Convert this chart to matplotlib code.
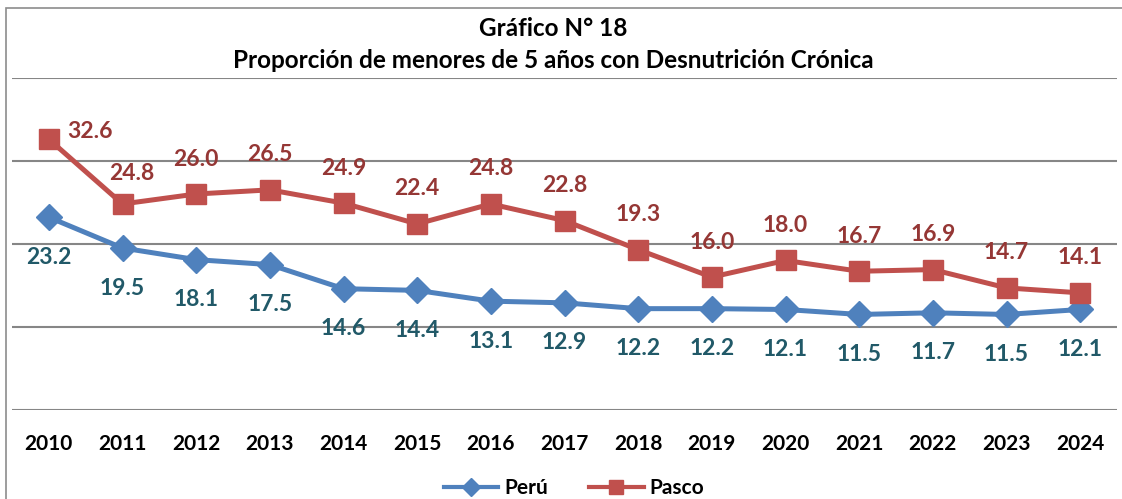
import matplotlib
matplotlib.use("Agg")
import matplotlib.pyplot as plt
from matplotlib.patches import Rectangle

years = ["2010", "2011", "2012", "2013", "2014", "2015", "2016", "2017",
         "2018", "2019", "2020", "2021", "2022", "2023", "2024"]
peru = [23.2, 19.5, 18.1, 17.5, 14.6, 14.4, 13.1, 12.9, 12.2, 12.2, 12.1, 11.5, 11.7, 11.5, 12.1]
pasco = [32.6, 24.8, 26.0, 26.5, 24.9, 22.4, 24.8, 22.8, 19.3, 16.0, 18.0, 16.7, 16.9, 14.7, 14.1]
title1 = "Gráfico N° 18"
title2 = "Proporción de menores de 5 años con Desnutrición Crónica"

FONT = "Lato"
C_PERU = "#4F81BD"
C_PASCO = "#C0504D"
C_PERU_LBL = "#215968"
C_PASCO_LBL = "#953735"
GRID = "#868686"

W, H = 1122, 499
fig = plt.figure(figsize=(W / 100, H / 100), dpi=100)
fig.patch.set_facecolor("white")

# chart frame
fig.add_artist(Rectangle((6 / W, -0.1), 1.2, (H - 8) / H + 0.1, transform=fig.transFigure,
                         fill=False, edgecolor="#8c8c8c", linewidth=1.2, clip_on=False))

ax = fig.add_axes([12 / W, (H - 410) / H, 1105 / W, (410 - 77.7) / H])
x = list(range(len(years)))
ax.set_xlim(-0.5, len(years) - 0.5)
ax.set_ylim(0, 40)
ax.set_yticks([0, 10, 20, 30, 40])
ax.yaxis.grid(True, color=GRID, linewidth=1.5)
ax.set_axisbelow(True)
for s in ax.spines.values():
    s.set_visible(False)
ax.tick_params(axis="y", left=False, labelleft=False)
ax.tick_params(axis="x", bottom=False, pad=14)
ax.set_xticks(x)
ax.set_xticklabels(years, fontfamily=FONT, fontweight="bold", fontsize=15, color="black")

ax.plot(x, peru, color=C_PERU, linewidth=3.6, marker="D", markersize=13,
        markerfacecolor=C_PERU, markeredgecolor=C_PERU, label="Perú", zorder=3)
ax.plot(x, pasco, color=C_PASCO, linewidth=3.6, marker="s", markersize=14.5,
        markerfacecolor=C_PASCO, markeredgecolor=C_PASCO, label="Pasco", zorder=3)

for i, v in enumerate(peru):
    ax.annotate(f"{v:.1f}", (i, v), xytext=(0, -40), textcoords="offset pixels",
                ha="center", va="center", fontfamily=FONT, fontweight="bold",
                fontsize=16.5, color=C_PERU_LBL, zorder=4)
for i, v in enumerate(pasco):
    off = (0, 35)
    if i == 0:
        off = (41, 8)
    elif i == 1:
        off = (9, 30)
    ax.annotate(f"{v:.1f}", (i, v), xytext=off, textcoords="offset pixels",
                ha="center", va="center", fontfamily=FONT, fontweight="bold",
                fontsize=16.5, color=C_PASCO_LBL, zorder=4)

fig.text(553 / W, 1 - 28 / H, title1, ha="center", va="center",
         fontfamily=FONT, fontweight="bold", fontsize=17.5, color="black")
fig.text(553 / W, 1 - 61 / H, title2, ha="center", va="center",
         fontfamily=FONT, fontweight="bold", fontsize=17.5, color="black")

leg = fig.legend(loc="center", bbox_to_anchor=(574 / W, 1 - 488 / H), ncol=2,
                 frameon=False, prop={"family": FONT, "weight": "bold", "size": 15},
                 handlelength=2.6, handletextpad=0.3, columnspacing=2.0,
                 markerscale=0.7)
for ln in leg.get_lines():
    ln.set_linewidth(3.0)

fig.savefig("out.png", dpi=100)
